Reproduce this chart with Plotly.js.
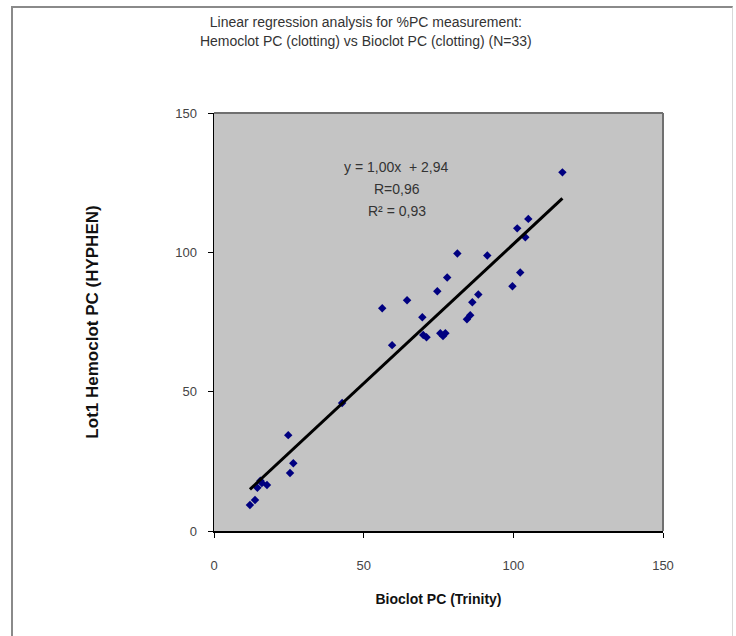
<!DOCTYPE html>
<html>
<head>
<meta charset="utf-8">
<script src="https://cdn.plot.ly/plotly-3.0.1.min.js"></script>
<style>
  html, body { margin: 0; padding: 0; background: #fff; }
  #wrap { position: relative; width: 736px; height: 636px; }
  #chart { width: 736px; height: 636px; }
  #frame { position: absolute; left: 11px; top: 6px; width: 719px; height: 640px;
           border-left: 2px solid #8a8a8a; border-top: 2px solid #8a8a8a; border-right: 1px solid #d8d8d8;
           pointer-events: none; }
</style>
</head>
<body>
<div id="wrap">
  <div id="chart"></div>
  <div id="frame"></div>
</div>
<script>
// Bioclot PC (Trinity) values (x) and Lot1 Hemoclot PC (HYPHEN) values (y)
const bioclotPC = [116.4, 105, 101.3, 104, 91.3, 81.3, 102.3, 99.7, 77.9, 74.6, 64.5,
                   56.2, 88.3, 86.3, 85.6, 69.6, 69.9, 75.6, 77.3, 59.5, 42.8, 24.8,
                   26.5, 25.4, 16, 17.7, 13.7, 12, 76.5, 14.5, 84.5, 15.5, 71];
const hemoclotPC = [128.7, 112, 108.6, 105.4, 98.9, 99.6, 92.8, 87.8, 91, 86, 82.8,
                    79.9, 84.9, 82.1, 77.4, 76.7, 70.3, 71, 71, 66.7, 45.9, 34.4,
                    24.3, 20.8, 17.2, 16.5, 11.1, 9.3, 70, 15.5, 76, 18, 69.5];
const slope = 1.00;
const intercept = 2.94;
const rValue = "0,96";
const r2Value = "0,93";
const axisTicks = [0, 50, 100, 150];

const xMin = Math.min(...bioclotPC);
const xMax = Math.max(...bioclotPC);
const fitX = [xMin, xMax];
const fitY = fitX.map(v => slope * v + intercept);

const fmt = v => v.toFixed(2).replace('.', ',');

const traces = [
  {
    x: bioclotPC, y: hemoclotPC, type: 'scatter', mode: 'markers',
    marker: { symbol: 'diamond', size: 6.5, color: '#000080' },
    hoverinfo: 'x+y', showlegend: false
  },
  {
    x: fitX, y: fitY, type: 'scatter', mode: 'lines',
    line: { color: '#000000', width: 3 }, showlegend: false
  }
];

const font = 'Liberation Sans, Arial, sans-serif';
const eqFont = { family: font, size: 14, color: '#333333' };

const layout = {
  width: 736, height: 636,
  margin: { l: 214, r: 73, t: 113, b: 105 },
  paper_bgcolor: '#ffffff',
  plot_bgcolor: '#c4c4c4',
  font: { family: font, size: 12, color: '#333333' },
  title: {
    text: 'Linear regression analysis for %PC measurement:<br>Hemoclot PC (clotting) vs Bioclot PC (clotting) (N=33)',
    font: { family: font, size: 14, color: '#333333' },
    x: 0.497, xref: 'container', xanchor: 'center',
    y: 0.957, yref: 'container', yanchor: 'top'
  },
  xaxis: {
    range: [0, 150], tickvals: axisTicks, ticktext: axisTicks.map(String),
    showgrid: false, zeroline: false,
    showline: true, linecolor: '#000000', linewidth: 1.5,
    ticks: 'outside', ticklen: 5, tickcolor: '#000000',
    ticklabelstandoff: 17,
    tickfont: { family: font, size: 13, color: '#444444' },
    title: { text: '<b>Bioclot PC (Trinity)</b>', font: { family: font, size: 14, color: '#111111' }, standoff: 22 }
  },
  yaxis: {
    range: [0, 150], tickvals: axisTicks, ticktext: axisTicks.map(String),
    showgrid: false, zeroline: false,
    showline: true, linecolor: '#000000', linewidth: 1.5,
    ticks: 'outside', ticklen: 5, tickcolor: '#000000',
    ticklabelstandoff: 8,
    tickfont: { family: font, size: 13, color: '#444444' },
    title: { text: '<b>Lot1 Hemoclot PC (HYPHEN)</b>', font: { family: font, size: 17, color: '#111111' }, standoff: 72 }
  },
  shapes: [
    { type: 'line', xref: 'paper', yref: 'paper', x0: 0, x1: 1, y0: 1, y1: 1, line: { color: '#707070', width: 2 } },
    { type: 'line', xref: 'paper', yref: 'paper', x0: 1, x1: 1, y0: 0, y1: 1, line: { color: '#707070', width: 2 } }
  ],
  annotations: [
    { xref: 'x', yref: 'y', x: 61, y: 130.5, xanchor: 'center', yanchor: 'middle',
      text: 'y = ' + fmt(slope) + 'x  + ' + fmt(intercept), showarrow: false, font: eqFont },
    { xref: 'x', yref: 'y', x: 61, y: 122.6, xanchor: 'center', yanchor: 'middle',
      text: 'R=' + rValue, showarrow: false, font: eqFont },
    { xref: 'x', yref: 'y', x: 61, y: 114.7, xanchor: 'center', yanchor: 'middle',
      text: 'R² = ' + r2Value, showarrow: false, font: eqFont }
  ]
};

Plotly.newPlot('chart', traces, layout, { displayModeBar: false, staticPlot: true });
</script>
</body>
</html>
